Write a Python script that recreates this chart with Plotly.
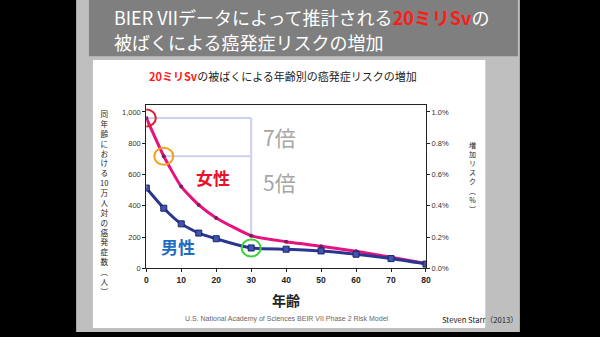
import plotly.graph_objects as go

# ---- data ----
ages = [0, 5, 10, 15, 20, 30, 40, 50, 60, 70, 80]
women = [962, 717, 523, 406, 323, 209, 171, 142, 110, 72, 32]
men = [514, 385, 285, 226, 190, 131, 123, 112, 91, 63, 28]
left_ticks = [0, 200, 400, 600, 800, 1000]
left_labels = ["0", "200", "400", "600", "800", "1,000"]
right_ticks = [0.0, 0.2, 0.4, 0.6, 0.8, 1.0]
right_labels = ["0.0%", "0.2%", "0.4%", "0.6%", "0.8%", "1.0%"]
x_ticks = [0, 10, 20, 30, 40, 50, 60, 70, 80]
left_title = ["同", "年", "齢", "に", "お", "け", "る", "10", "万", "人", "対", "の",
              "癌", "発", "症", "数", "︵", "人", "︶"]
right_title = ["増", "加", "リ", "ス", "ク", "︵", "%", "︶"]

W, H = 600, 337
def px(x):
    return x / W
def py(y):
    return 1 - y / H

JP = "Noto Sans CJK JP"
AR = "Liberation Sans"

fig = go.Figure()

fig.add_trace(go.Scatter(
    x=ages, y=women, mode="lines+markers", line=dict(color="#e6127f", width=3, shape="spline", smoothing=0.5),
    marker=dict(symbol="circle", size=4, color="#7a1d5e"), showlegend=False, hoverinfo="skip"))
fig.add_trace(go.Scatter(
    x=ages, y=men, mode="lines+markers", line=dict(color="#2b3690", width=3, shape="spline", smoothing=0.5),
    marker=dict(symbol="square", size=6, color="#3f56b0", line=dict(color="#1c2268", width=1)),
    showlegend=False, hoverinfo="skip"))
fig.add_trace(go.Scatter(
    x=ages, y=[v / 1000 for v in women], yaxis="y2", mode="lines", line=dict(width=0),
    opacity=0, showlegend=False, hoverinfo="skip"))

shapes = []
# slide panels
shapes.append(dict(type="rect", xref="paper", yref="paper", x0=px(75), x1=px(524), y0=0, y1=1,
                   fillcolor="#bfbfbf", line=dict(width=0), layer="below"))
shapes.append(dict(type="rect", xref="paper", yref="paper", x0=px(88), x1=px(522), y0=py(57), y1=1,
                   fillcolor="#7f7f7f", line=dict(width=0), layer="below"))
shapes.append(dict(type="rect", xref="paper", yref="paper", x0=px(92), x1=px(489), y0=py(333), y1=py(61),
                   fillcolor="#ffffff", line=dict(width=0), layer="below"))
# lavender guide lines
lav = dict(color="#cfcff0", width=2)
shapes.append(dict(type="line", xref="x", yref="y", x0=ages[0], x1=ages[5], y0=women[0], y1=women[0], line=lav, layer="below"))
shapes.append(dict(type="line", xref="x", yref="y", x0=ages[1], x1=ages[5], y0=women[1], y1=women[1], line=lav, layer="below"))
shapes.append(dict(type="line", xref="x", yref="y", x0=ages[5], x1=ages[5], y0=women[0], y1=women[5], line=lav, layer="below"))
# highlight circles
def circ(xv, yv, color):
    return dict(type="circle", xref="x", yref="y", xsizemode="pixel", ysizemode="pixel",
                xanchor=xv, yanchor=yv, x0=-9.5, x1=9.5, y0=-8.5, y1=8.5,
                line=dict(color=color, width=2), layer="above")
shapes.append(circ(ages[0], women[0], "#e01e2c"))
shapes.append(circ(ages[1], women[1], "#f5a020"))
shapes.append(circ(ages[5], men[5], "#3dd13d"))

ann = []
ann.append(dict(x=px(111), y=py(17), xref="paper", yref="paper", xanchor="left", yanchor="middle",
                text="BIER VIIデータによって推計される<b><span style='color:#ff1a1a'>20ミリSv</span></b>の",
                showarrow=False, font=dict(family=JP, size=18, color="#ffffff")))
ann.append(dict(x=px(111), y=py(43), xref="paper", yref="paper", xanchor="left", yanchor="middle",
                text="被ばくによる癌発症リスクの増加",
                showarrow=False, font=dict(family=JP, size=18, color="#ffffff")))
ann.append(dict(x=px(284), y=py(77), xref="paper", yref="paper", xanchor="center", yanchor="middle",
                text="<b><span style='color:#ff1a1a'>20ミリSv</span></b>の被ばくによる年齢別の癌発症リスクの増加",
                showarrow=False, font=dict(family=JP, size=11, color="#222222")))
ann.append(dict(x=px(262), y=py(139), xref="paper", yref="paper", xanchor="left", yanchor="middle",
                text="7倍", showarrow=False, font=dict(family=JP, size=21, color="#a6a6a6")))
ann.append(dict(x=px(262), y=py(185), xref="paper", yref="paper", xanchor="left", yanchor="middle",
                text="5倍", showarrow=False, font=dict(family=JP, size=21, color="#a6a6a6")))
ann.append(dict(x=px(213), y=py(180), xref="paper", yref="paper", xanchor="center", yanchor="middle",
                text="<b>女性</b>", showarrow=False, font=dict(family=JP, size=17, color="#e8102a")))
ann.append(dict(x=px(178), y=py(250), xref="paper", yref="paper", xanchor="center", yanchor="middle",
                text="<b>男性</b>", showarrow=False, font=dict(family=JP, size=17, color="#1f6cc4")))
ann.append(dict(x=px(287), y=py(305), xref="paper", yref="paper", xanchor="center", yanchor="middle",
                text="<b>年齢</b>", showarrow=False, font=dict(family=JP, size=14, color="#222222")))
ann.append(dict(x=px(288), y=py(324), xref="paper", yref="paper", xanchor="center", yanchor="middle",
                text="U.S. National Academy of Sciences BEIR VII Phase 2 Risk Model",
                showarrow=False, font=dict(family=AR, size=7, color="#666666")))
ann.append(dict(x=px(443), y=py(324), xref="paper", yref="paper", xanchor="left", yanchor="middle",
                text="Steven Starr（2013）", showarrow=False, font=dict(family=JP, size=7.7, color="#222222")))
# vertical (upright) axis titles, one character per line
ann.append(dict(x=px(103), y=py(109), xref="paper", yref="paper", xanchor="center", yanchor="top",
                text="<br>".join(left_title), showarrow=False, borderpad=0,
                font=dict(family=JP, size=7.6, color="#222222")))
ann.append(dict(x=px(476), y=py(141), xref="paper", yref="paper", xanchor="center", yanchor="top",
                text="<br>".join(right_title), showarrow=False, borderpad=0,
                font=dict(family=JP, size=7.0, color="#222222")))

fig.update_layout(
    width=W, height=H, margin=dict(l=0, r=0, t=0, b=0),
    paper_bgcolor="#000000", plot_bgcolor="#ffffff",
    xaxis=dict(domain=[px(146), px(429)], range=[0, 80], tickvals=x_ticks,
               ticktext=[f"<b>{v}</b>" for v in x_ticks], showgrid=False, zeroline=False,
               showline=True, linecolor="#222222", linewidth=1, mirror=True,
               ticks="outside", ticklen=3, tickcolor="#222222",
               tickfont=dict(family=AR, size=8.5, color="#222222")),
    yaxis=dict(domain=[py(272.5), py(107)], range=[0, 1042], tickvals=left_ticks, ticktext=left_labels,
               showgrid=False, zeroline=False, showline=True, linecolor="#222222", linewidth=1,
               ticks="outside", ticklen=3, tickcolor="#222222",
               tickfont=dict(family=AR, size=7.5, color="#333333")),
    yaxis2=dict(overlaying="y", side="right", range=[0, 1.042], tickvals=right_ticks, ticktext=right_labels,
                showgrid=False, zeroline=False, showline=True, linecolor="#222222", linewidth=1,
                ticks="outside", ticklen=3, tickcolor="#222222",
                tickfont=dict(family=AR, size=7.5, color="#333333")),
    shapes=shapes, annotations=ann,
)

fig.write_html("out.html")
